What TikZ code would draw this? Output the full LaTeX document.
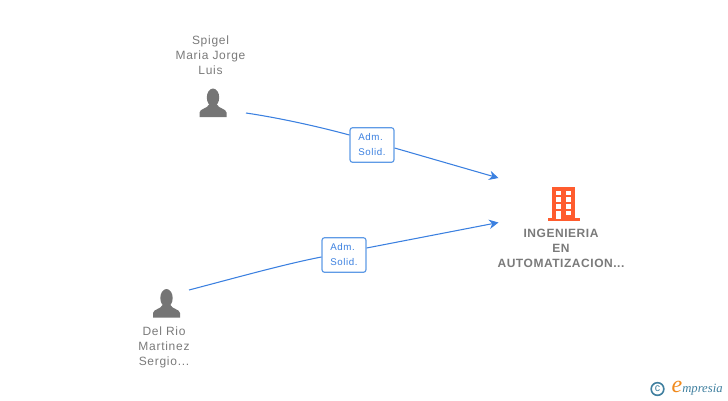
\documentclass[tikz,border=0pt]{standalone}
\usepackage{fontspec}
\setmainfont{Liberation Sans}
\newfontfamily\labelfont[LetterSpace=6]{Liberation Sans}
\newfontfamily\boldfont[LetterSpace=4.5]{Liberation Sans Bold}
\newfontfamily\markfont{Liberation Serif}
\usetikzlibrary{arrows.meta,calc}
\definecolor{labelgray}{HTML}{7A7A7A}
\definecolor{icongray}{HTML}{757575}
\definecolor{iconorange}{HTML}{FF5C2E}
\definecolor{linkblue}{HTML}{3B80E0}
\definecolor{boxblue}{HTML}{5F9BE6}
\definecolor{markteal}{HTML}{3F7F9F}
\definecolor{markorange}{HTML}{F08A1D}
\tikzset{>={Stealth[length=7pt,width=7pt,inset=2.2pt]}}
\tikzset{
  label/.style={text=labelgray,align=center,inner sep=0pt,font=\fontsize{9}{11.25}\labelfont},
  boldlabel/.style={label,font=\fontsize{9}{11.25}\boldfont},
  rolebox/.style={draw=boxblue,line width=0.9pt,fill=white,rounded corners=2pt,text=linkblue,
    minimum width=33pt,minimum height=26pt,inner sep=0pt,align=left,
    font=\fontsize{7.3}{11.25}\labelfont},
  link/.style={draw=linkblue,line width=0.8pt},
  pics/personicon/.style={code={
    \fill[icongray] (0,-5.5) ellipse (6.2 and 9);
    \fill[icongray] (-13.5,14) -- (-13.5,9.5) .. controls (-13,5.5) and (-6,6) .. (-3.5,1)
      -- (3.5,1) .. controls (6,6) and (13,5.5) .. (13.5,9.5) -- (13.5,14) -- cycle;
  }},
  pics/buildingicon/.style={code={
    \fill[iconorange] (-12.5,-16.5) rectangle (10.5,15);
    \fill[iconorange] (-17,15) rectangle (15,18);
    \foreach \wy in {-12.5,-5.8,1,7.7}
      \fill[white] (1.5,\wy) rectangle ++(5.3,4.6);
    \foreach \wy in {-12.5,-5.8,1}
      \fill[white] (-9,\wy) rectangle ++(5.3,4.6);
    \fill[white] (-9,7.7) rectangle ++(5.3,8.6);
  }}
}

\begin{document}
\begin{tikzpicture}[x=0.75pt,y=-0.75pt]
  \useasboundingbox (0,0) rectangle (728,400);

  % Icons
  \coordinate (spigel) at (213,103);
  \coordinate (delrio) at (166.5,303.5);
  \coordinate (ingenieria) at (564.5,203);
  \pic at (spigel) {personicon};
  \pic at (delrio) {personicon};
  \pic at (ingenieria) {buildingicon};

  % Labels
  \node[label] (spigeltext) at (210.5,55) {Spigel\\Maria Jorge\\Luis};
  \node[label] (delriotext) at (164,347) {Del Rio\\Martinez\\Sergio...};
  \node[boldlabel] (ingenieriatext) at (561,248) {INGENIERIA\\EN\\AUTOMATIZACION...};

  % Boxes
  \node[rolebox] (role1) at (372,145) {Adm.\\Solid.};
  \node[rolebox] (role2) at (344,255) {Adm.\\Solid.};

  % Lines
  \coordinate (spigelout) at ($(spigel)+(33,10)$);
  \coordinate (delrioout) at ($(delrio)+(22.5,-13.5)$);
  \coordinate (target1) at ($(ingenieria)+(-66,-25)$);
  \coordinate (target2) at ($(ingenieria)+(-66,19.5)$);
  \draw[link] (spigelout) .. controls (280,118) and (320,127) .. ($(role1.west)+(0,-10)$);
  \draw[link,->] ($(role1.east)+(0,3)$) -- (target1);
  \draw[link] (delrioout) .. controls (235,278) and (285,264) .. ($(role2.west)+(0,2)$);
  \draw[link,->] ($(role2.east)+(0,-7)$) -- (target2);

  % Mark
  \node[circle,draw=markteal,line width=1.2pt,text=markteal,inner sep=0pt,minimum size=9.5pt,
    font=\fontsize{8}{8}\selectfont] (copyrightmark) at (657.5,389) {c};
  \node[text=markorange,inner sep=0pt,font=\fontsize{18}{18}\markfont\itshape] (markinitial) at (677,387) {e};
  \node[text=markteal,inner sep=0pt,anchor=west,font=\fontsize{9.5}{9.5}\markfont\itshape] (markname) at (682,390) {mpresia};
\end{tikzpicture}
\end{document}
